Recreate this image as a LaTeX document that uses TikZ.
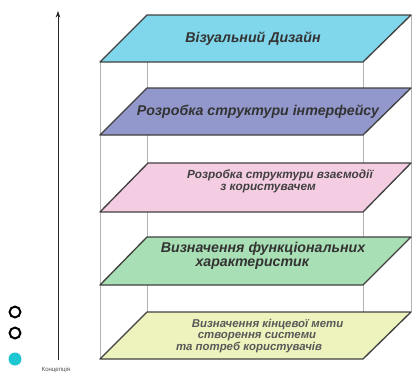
\documentclass[tikz,border=0pt]{standalone}
\usepackage{fontspec}
\setmainfont{Liberation Sans}
\usetikzlibrary{arrows.meta}
\definecolor{vizcyan}{HTML}{80D6EA}
\definecolor{ifacepurple}{HTML}{9298CC}
\definecolor{actpink}{HTML}{F5CDE3}
\definecolor{funcgreen}{HTML}{A9DFB5}
\definecolor{goalyellow}{HTML}{EEF2BC}
\definecolor{dotcyan}{HTML}{1EC6D2}
\tikzset{
  layer/.style={draw=black!75,line width=1pt,line join=round},
  boxline/.style={draw=black!30,line width=0.5pt},
  laytext/.style={text=black!80,font=\fontsize{10.7}{10.6}\selectfont\bfseries\itshape,align=center},
  smalltext/.style={text=black!75,font=\fontsize{8.9}{9}\selectfont\bfseries\itshape,align=center},
  ring/.style={circle,draw=black,line width=1.5pt,minimum size=8.2pt,inner sep=0pt}
}
\begin{document}
\begin{tikzpicture}[x=0.0265cm,y=-0.0265cm]
          \useasboundingbox (0,0) rectangle (414,374);
          % box edges behind the layers
          \draw[boxline](100,62)--(100,359);
          \draw[boxline](363,62)--(363,359);
          \draw[boxline](147,15)--(147,312);
          \draw[boxline](411,15)--(411,312);
          % layers
          \draw[layer,fill=vizcyan](147,15)--(411,15)--(363,62)--(100,62)--cycle;
          \node[laytext](visual)at(253,39){Візуальний Дизайн};
          \draw[layer,fill=ifacepurple](147,88)--(411,88)--(363,135)--(100,135)--cycle;
          \node[laytext](iface)at(258,112){Розробка структури інтерфейсу};
          \draw[layer,fill=actpink](148,163)--(411,163)--(363,212)--(100,212)--cycle;
          \node[smalltext](interact)at(280,181){Розробка структури взаємодії\\з користувачем\hspace*{18pt}};
          \draw[layer,fill=funcgreen](147,237)--(411,237)--(363,285)--(100,285)--cycle;
          \node[laytext](func)at(263,256){Визначення функціональних\\характеристик\hspace*{16pt}};
          \draw[layer,fill=goalyellow](147,312)--(411,312)--(363,359)--(100,359)--cycle;
          \node[smalltext,font=\fontsize{8.6}{7.9}\selectfont\bfseries\itshape,text=black!65](goal)at(257,336){\hspace*{16pt}Визначення кінцевої мети\\створення системи\\та потреб користувачів\hspace*{12pt}};
          % axis and markers
          \coordinate(axisbot)at(58,360);
          \coordinate(axistop)at(58,11);
          \draw[black!85,line width=0.6pt,-{Stealth[length=5pt,width=3.5pt]}](axisbot)--(axistop);
          \node[ring](ringa)at(15,312){};
          \node[ring](ringb)at(15,333){};
          \node[circle,fill=dotcyan,minimum size=9.8pt,inner sep=0pt](dot)at(15,359){};
          \node[font=\fontsize{4.6}{5}\selectfont,text=black!70](concept)at(56,370){Концепція};
\end{tikzpicture}
\end{document}
